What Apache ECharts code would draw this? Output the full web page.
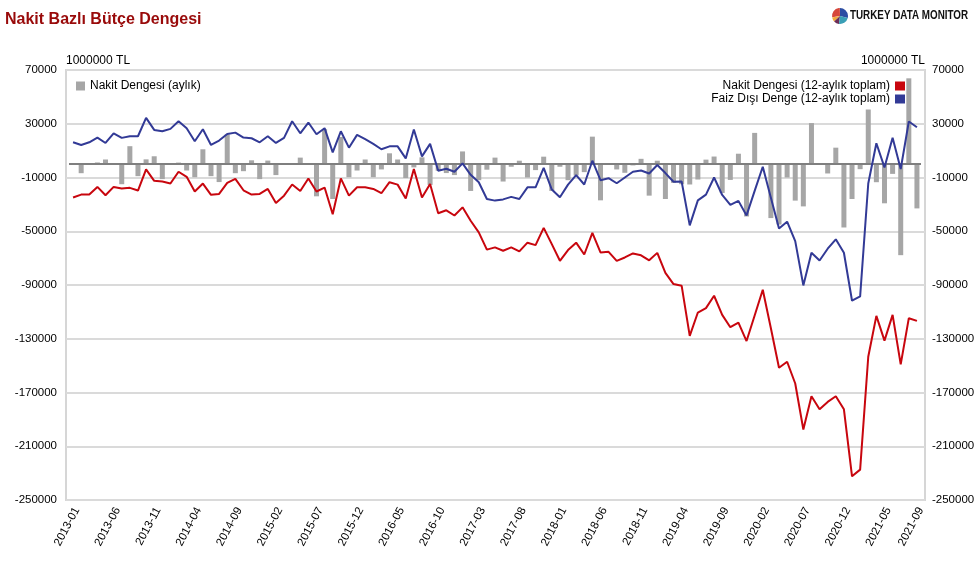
<!DOCTYPE html>
<html><head><meta charset="utf-8">
<script src="https://cdn.jsdelivr.net/npm/echarts@6/dist/echarts.min.js"></script>
<style>html,body{margin:0;padding:0;background:#fff}#c{width:979px;height:570px}</style>
</head><body><div id="c"></div><script>
// Month labels 2013-01 .. 2021-09
const months = [];
for (let y = 2013; y <= 2021; y++) {
  for (let m = 1; m <= 12; m++) {
    if (y === 2021 && m > 9) break;
    months.push(y + '-' + (m < 10 ? '0' + m : m));
  }
}
// Nakit Dengesi (aylık) — 1000000 TL
const monthlyBalance = [
  0, -6800, 0, 1200, 3400, 0, -15000, 13300, -9000, 3500,
  5800, -11200, 0, 1100, -4800, -9800, 11000, -9000, -13400, 22000,
  -6800, -5300, 2800, -11200, 2600, -8200, 0, 0, 4800, 0,
  -24000, 26000, -26000, 20200, -9800, -4800, 3400, -9800, -4000, 8000,
  3400, -10400, -2500, 5000, -15500, -5000, -6700, -8200, 9400, -20000,
  -12000, -4200, 4800, -13000, -2000, 2500, -10000, -4500, 5500, -20000,
  -2000, -12000, -8500, -6000, 20400, -27000, 0, -4000, -6500, -1000,
  3900, -23500, 2500, -26000, -14000, -15000, -15200, -11500, 3300, 5600,
  -21500, -11800, 7700, -39000, 23200, 0, -40200, -45000, -10000, -27200,
  -31500, 30500, 0, -7000, 12200, -47200, -26000, -3800, 40600, -13500,
  -29200, -7300, -67800, 63800, -33000
];
// Nakit Dengesi (12-aylık toplam)
const cashBalance12 = [
  -24900, -22700, -22700, -17000, -23200, -17000, -18200, -17700, -19700, -4000,
  -12500, -13000, -14500, -5700, -9500, -20400, -14500, -22900, -22200, -14000,
  -11000, -19500, -22700, -22200, -18500, -28900, -23500, -15200, -20000, -10700,
  -20400, -17500, -37400, -10700, -23500, -17300, -17300, -18500, -21700, -13500,
  -15300, -25600, -3600, -24900, -14800, -36600, -34400, -38300, -32200, -42200,
  -50800, -63700, -62000, -64500, -62000, -65000, -58500, -60300, -47500, -59600,
  -72000, -64000, -58500, -67300, -51200, -65800, -65300, -72000, -69500, -66500,
  -67900, -71600, -66100, -81000, -89300, -90500, -127900, -110500, -107200, -98000,
  -112200, -121400, -118000, -131700, -112700, -93500, -122200, -151600, -147100, -163300,
  -197500, -172800, -182500, -177000, -172800, -182500, -232400, -227400, -143400, -113000,
  -131400, -112200, -149100, -114700, -116700
];
// Faiz Dışı Denge (12-aylık toplam)
const primaryBalance12 = [
  16200, 14200, 16200, 19700, 15700, 22900, 19500, 20700, 20700, 34400,
  25400, 24400, 26200, 31900, 26700, 17000, 25900, 14200, 17500, 22400,
  23400, 19700, 19200, 16200, 20700, 15700, 19500, 31900, 22900, 30900,
  22200, 26700, 8700, 24400, 12200, 21700, 18500, 15000, 11000, 13200,
  13200, 4200, 25700, 5700, 15000, -5000, -3500, -5700, 500, -8000,
  -13500, -26000, -27200, -26300, -24400, -26000, -17300, -17300, -2800, -19000,
  -24700, -15300, -8200, -15200, 2500, -12000, -10500, -14300, -10000, -5700,
  -4800, -7000, -700, -6700, -13200, -13000, -45600, -27000, -22700, -10000,
  -23000, -30400, -27400, -38200, -20000, -2000, -25000, -47900, -42900, -57400,
  -90300, -66000, -71800, -63000, -56000, -66000, -101700, -98500, -14500, 15500,
  -2500, 19500, -3700, 31700, 27400
];
const yMin = -250000, yMax = 70000, yStep = 40000;
const unitLabel = '1000000 TL';
const titleText = 'Nakit Bazlı Bütçe Dengesi';
const sBar = 'Nakit Dengesi (aylık)';
const sCash = 'Nakit Dengesi (12-aylık toplam)';
const sPrim = 'Faiz Dışı Denge (12-aylık toplam)';

const FONT = 'Liberation Sans, Arial, sans-serif';
const chart = echarts.init(document.getElementById('c'), null, {renderer: 'canvas'});
const lastIdx = months.length - 1;
const yCommon = {type: 'value', min: yMin, max: yMax, interval: yStep};
const plainNum = (v) => String(v);

const logoColors = ['#2c4da3', '#d6463a', '#f2a93b', '#6b2d57', '#3a9fb6'];
const logoAngles = [[-1.6, 0.25], [-3.3, -1.6], [2.4, 2.95], [1.7, 2.4], [0.25, 1.7]];

chart.setOption({
  backgroundColor: '#fff',
  animation: false,
  textStyle: {fontFamily: FONT},
  title: {
    text: titleText, left: 0, top: 7,
    textStyle: {color: '#990a0a', fontSize: 16, fontWeight: 'bold', fontFamily: FONT}
  },
  graphic: [
    {type: 'group', left: 832, top: 8, children:
      logoAngles.map((a, k) => ({
        type: 'sector',
        shape: {cx: 8, cy: 8, r0: 0, r: 8, startAngle: a[0], endAngle: a[1]},
        style: {fill: logoColors[k]}
      }))
    },
    {type: 'text', left: 850, top: 10, scaleX: 0.82,
      style: {text: 'TURKEY DATA MONITOR', fill: '#111', font: 'bold 12px ' + FONT}}
  ],
  legend: [
    {data: [sBar], left: 71, top: 75, icon: 'rect', itemWidth: 9, itemHeight: 9,
      textStyle: {fontSize: 12, color: '#000', fontFamily: FONT}},
    {data: [sCash, sPrim], orient: 'vertical', right: 69, top: 75, align: 'right',
      icon: 'rect', itemWidth: 10, itemHeight: 9, itemGap: 1,
      textStyle: {fontSize: 12, color: '#000', fontFamily: FONT}}
  ],
  grid: [
    {left: 66, width: 859, top: 70, height: 430, show: true, borderColor: '#d6d6d6', borderWidth: 2,
      backgroundColor: 'transparent', outerBoundsMode: 'none', containLabel: false},
    {left: 69, width: 852, top: 70, height: 430, outerBoundsMode: 'none', containLabel: false},
    {left: 73, width: 852, top: 70, height: 430, outerBoundsMode: 'none', containLabel: false}
  ],
  xAxis: [
    {gridIndex: 0, type: 'category', data: months, show: false},
    {gridIndex: 1, type: 'category', data: months, boundaryGap: true, show: false},
    {gridIndex: 2, type: 'category', data: months, boundaryGap: true,
      axisLine: {show: false}, axisTick: {show: false},
      axisLabel: {
        interval: (i) => i % 5 === 0 || i === lastIdx,
        rotate: 62, fontSize: 11.5, color: '#000', margin: 8, fontFamily: FONT
      }}
  ],
  yAxis: [
    Object.assign({gridIndex: 0, position: 'left', name: unitLabel, nameLocation: 'end', nameGap: 3,
      nameTextStyle: {align: 'left', color: '#000', fontSize: 12, fontFamily: FONT},
      axisLine: {show: false}, axisTick: {show: false},
      axisLabel: {color: '#000', fontSize: 11.5, margin: 9, fontFamily: FONT, formatter: plainNum},
      splitLine: {show: true, lineStyle: {color: '#dadada', width: 2}}}, yCommon),
    Object.assign({gridIndex: 0, position: 'right', name: unitLabel, nameLocation: 'end', nameGap: 3,
      nameTextStyle: {align: 'right', color: '#000', fontSize: 12, fontFamily: FONT},
      axisLine: {show: false}, axisTick: {show: false},
      axisLabel: {color: '#000', fontSize: 11.5, margin: 7, fontFamily: FONT, formatter: plainNum},
      splitLine: {show: false}}, yCommon),
    Object.assign({gridIndex: 1, show: false, splitLine: {show: false}}, yCommon),
    Object.assign({gridIndex: 2, show: false, splitLine: {show: false}}, yCommon)
  ],
  series: [
    {name: sBar, type: 'bar', xAxisIndex: 1, yAxisIndex: 2, data: monthlyBalance,
      barWidth: 5, itemStyle: {color: '#a6a6a6'},
      markLine: {silent: true, symbol: 'none', label: {show: false}, z: 5,
        lineStyle: {color: '#7f7f7f', type: 'solid', width: 2}, data: [{yAxis: 0}]}},
    {name: sCash, type: 'line', xAxisIndex: 1, yAxisIndex: 2, data: cashBalance12,
      showSymbol: false, symbol: 'none', lineStyle: {color: '#c8060e', width: 2}, itemStyle: {color: '#c8060e'}, z: 6},
    {name: sPrim, type: 'line', xAxisIndex: 1, yAxisIndex: 2, data: primaryBalance12,
      showSymbol: false, symbol: 'none', lineStyle: {color: '#323a96', width: 2}, itemStyle: {color: '#323a96'}, z: 7}
  ]
});
</script></body></html>
